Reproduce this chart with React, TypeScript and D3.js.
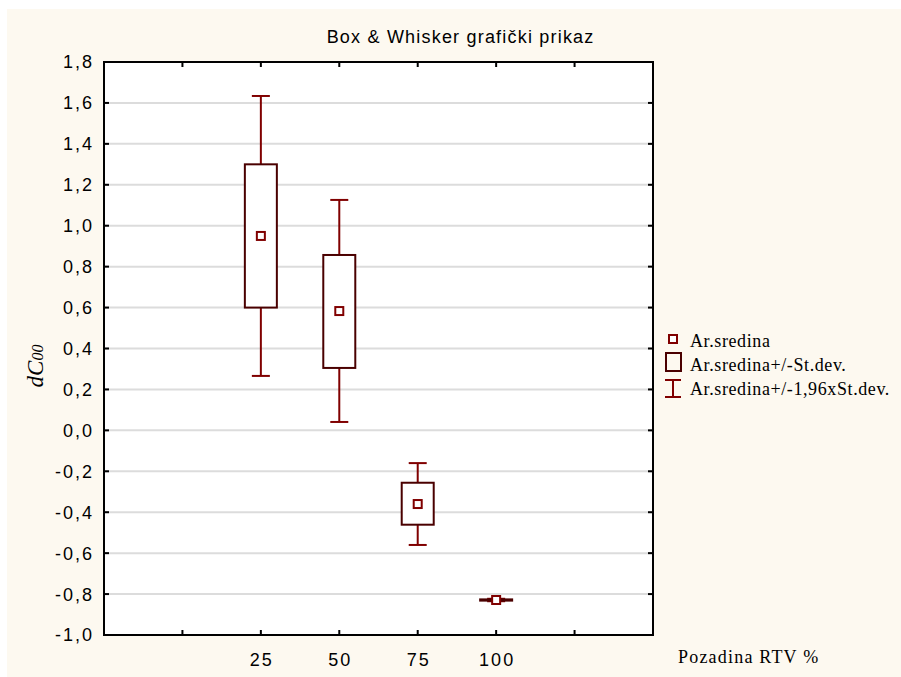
import React from "react";
import * as d3 from "d3";

const categories = ["25", "50", "75", "100"];
const catPositions = [2, 3, 4, 5];
const means = [0.95, 0.583, -0.36, -0.829];
const sdLow = [0.6, 0.305, -0.461, -0.832];
const sdHigh = [1.3, 0.857, -0.256, -0.826];
const ciLow = [0.266, 0.041, -0.56, -0.835];
const ciHigh = [1.634, 1.126, -0.16, -0.823];
const yTicks = [-1.0, -0.8, -0.6, -0.4, -0.2, 0.0, 0.2, 0.4, 0.6, 0.8, 1.0, 1.2, 1.4, 1.6, 1.8];
const xTicks = [1, 2, 3, 4, 5, 6];
const legendLabels = ["Ar.sredina", "Ar.sredina+/-St.dev.", "Ar.sredina+/-1,96xSt.dev."];

const W = 901;
const H = 677;
const L = 104, R = 653, T = 62, B = 635;
const BG = "#FDF9F0";
const WHISK = "#800000";
const BOXC = "#4A0000";
const SANS = "'Liberation Sans', Arial, sans-serif";
const SERIF = "'Liberation Serif', 'Times New Roman', serif";
const NUM_LS = 2;

export default function App() {
  const x = d3.scaleLinear().domain([0, 7]).range([L, R]);
  const y = d3.scaleLinear().domain([-1, 1.8]).range([B, T]);
  const fmt = (v: number) => d3.format(".1f")(v).replace(".", ",").replace("−", "-");
  const boxW = 32;
  const capW = 18;
  const mk = 8;

  return (
    <svg width={W} height={H} style={{ position: "absolute", left: 0, top: 0, display: "block" }}>
      <rect x={0} y={0} width={W} height={H} fill="#ffffff" />
      <rect x={7} y={9} width={W - 7} height={H - 9} fill={BG} />
      <rect x={L} y={T} width={R - L} height={B - T} fill="#ffffff" />
      {/* grid */}
      {yTicks.map((t, i) => (
        <line key={"g" + i} x1={L} x2={R} y1={y(t)} y2={y(t)} stroke="#dcdcdc" strokeWidth={2} />
      ))}
      {/* y ticks + labels */}
      {yTicks.map((t, i) => (
        <g key={"yt" + i}>
          <line x1={L} x2={L + 5} y1={y(t)} y2={y(t)} stroke="#000" strokeWidth={2} />
          <line x1={R - 5} x2={R} y1={y(t)} y2={y(t)} stroke="#000" strokeWidth={2} />
          <text x={92 + NUM_LS} y={y(t)} dy="0.36em" textAnchor="end" fontFamily={SANS} fontSize={18} letterSpacing={NUM_LS} fill="#000">
            {fmt(t)}
          </text>
        </g>
      ))}
      {/* x ticks */}
      {xTicks.map((t, i) => (
        <g key={"xt" + i}>
          <line x1={x(t)} x2={x(t)} y1={B} y2={B - 5} stroke="#000" strokeWidth={2} />
          <line x1={x(t)} x2={x(t)} y1={T} y2={T + 5} stroke="#000" strokeWidth={2} />
        </g>
      ))}
      {categories.map((c, i) => (
        <text key={"xl" + i} x={x(catPositions[i]) + NUM_LS / 2} y={666} textAnchor="middle" fontFamily={SANS} fontSize={18} letterSpacing={NUM_LS} fill="#000">
          {c}
        </text>
      ))}
      {/* frame */}
      <rect x={L} y={T} width={R - L} height={B - T} fill="none" stroke="#000" strokeWidth={2} />
      {/* boxes */}
      {categories.map((c, i) => {
        const cx = x(catPositions[i]);
        return (
          <g key={"b" + i}>
            <line x1={cx} x2={cx} y1={y(ciHigh[i])} y2={y(sdHigh[i])} stroke={WHISK} strokeWidth={2} />
            <line x1={cx} x2={cx} y1={y(sdLow[i])} y2={y(ciLow[i])} stroke={WHISK} strokeWidth={2} />
            <line x1={cx - capW / 2} x2={cx + capW / 2} y1={y(ciHigh[i])} y2={y(ciHigh[i])} stroke={WHISK} strokeWidth={2} />
            <line x1={cx - capW / 2} x2={cx + capW / 2} y1={y(ciLow[i])} y2={y(ciLow[i])} stroke={WHISK} strokeWidth={2} />
            <rect x={cx - boxW / 2} y={y(sdHigh[i])} width={boxW} height={Math.max(0.5, y(sdLow[i]) - y(sdHigh[i]))} fill="#fff" stroke={BOXC} strokeWidth={2} />
            <rect x={cx - mk / 2} y={y(means[i]) - mk / 2} width={mk} height={mk} fill="#fff" stroke={WHISK} strokeWidth={2} />
          </g>
        );
      })}
      {/* title */}
      <text x={460.6} y={43} textAnchor="middle" fontFamily={SANS} fontSize={18} letterSpacing={1.2} fill="#000">
        Box &amp; Whisker grafički prikaz
      </text>
      {/* y label */}
      <text transform="translate(43,366) rotate(-90)" textAnchor="middle" fontFamily={SERIF} fontStyle="italic" fontSize={23} fill="#000">
        dC<tspan fontSize={16}>00</tspan>
      </text>
      {/* x label */}
      <text x={678} y={663} fontFamily={SERIF} fontSize={18} letterSpacing={1.2} fill="#000">Pozadina RTV %</text>
      {/* legend */}
      <g>
        <rect x={669} y={335} width={8} height={8} fill="#fff" stroke={WHISK} strokeWidth={2} />
        <text x={690} y={347} fontFamily={SERIF} fontSize={18} letterSpacing={0.6} fill="#000">{legendLabels[0]}</text>
        <rect x={666} y={353} width={15} height={18} fill="none" stroke={BOXC} strokeWidth={2} />
        <text x={690} y={371} fontFamily={SERIF} fontSize={18} letterSpacing={0.6} fill="#000">{legendLabels[1]}</text>
        <line x1={673} x2={673} y1={380} y2={397} stroke={WHISK} strokeWidth={2} />
        <line x1={665} x2={681} y1={380} y2={380} stroke={WHISK} strokeWidth={2} />
        <line x1={665} x2={681} y1={397} y2={397} stroke={WHISK} strokeWidth={2} />
        <text x={690} y={395} fontFamily={SERIF} fontSize={18} letterSpacing={0.6} fill="#000">{legendLabels[2]}</text>
      </g>
    </svg>
  );
}
